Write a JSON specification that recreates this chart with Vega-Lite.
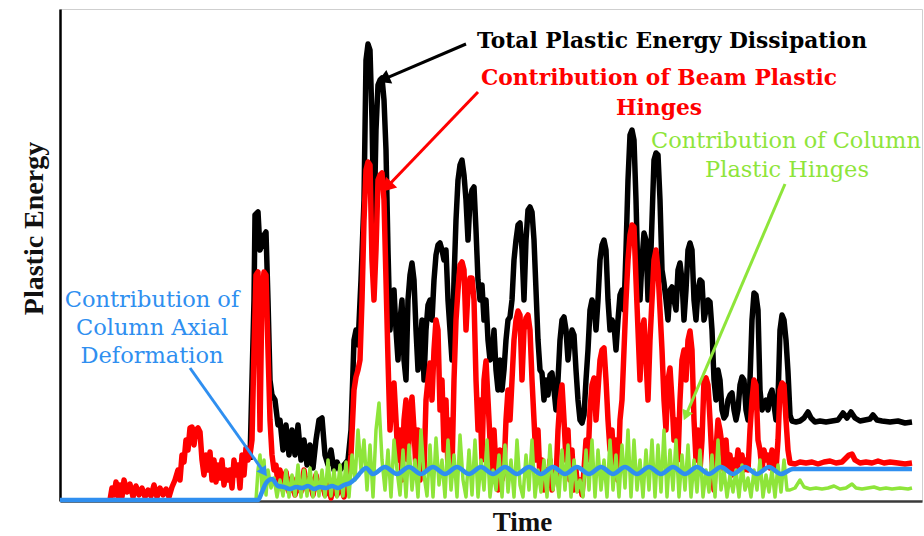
{
"$schema": "https://vega.github.io/schema/vega-lite/v6.json",
"width": 862, "height": 492,
"autosize": "none",
"padding": {"left": 60, "top": 9, "right": 2, "bottom": 35},
"background": "white",
"datasets": {
"total": [
{"t":250,"e":41},{"t":254,"e":201},{"t":255,"e":286},{"t":258,"e":289},{"t":260,"e":251},{"t":262,"e":256},{"t":264,"e":266},{"t":266,"e":269},{"t":268,"e":201},{"t":270,"e":121},{"t":272,"e":106},{"t":275,"e":101},{"t":278,"e":76},{"t":280,"e":81},{"t":283,"e":51},{"t":286,"e":76},{"t":289,"e":46},{"t":292,"e":71},{"t":295,"e":46},{"t":298,"e":76},{"t":301,"e":41},{"t":304,"e":61},{"t":307,"e":36},{"t":310,"e":56},{"t":313,"e":33},{"t":316,"e":61},{"t":319,"e":81},{"t":322,"e":83},{"t":325,"e":46},{"t":328,"e":36},{"t":331,"e":51},{"t":334,"e":31},{"t":337,"e":39},{"t":340,"e":31},{"t":344,"e":36},{"t":348,"e":41},{"t":351,"e":71},{"t":354,"e":161},{"t":356,"e":171},{"t":358,"e":156},{"t":361,"e":221},{"t":364,"e":301},{"t":366,"e":441},{"t":368,"e":457},{"t":370,"e":451},{"t":372,"e":381},{"t":374,"e":271},{"t":376,"e":371},{"t":378,"e":416},{"t":380,"e":421},{"t":382,"e":423},{"t":384,"e":401},{"t":386,"e":351},{"t":388,"e":251},{"t":390,"e":171},{"t":392,"e":201},{"t":394,"e":211},{"t":396,"e":171},{"t":398,"e":141},{"t":400,"e":181},{"t":402,"e":201},{"t":404,"e":141},{"t":406,"e":121},{"t":408,"e":201},{"t":410,"e":226},{"t":412,"e":238},{"t":414,"e":221},{"t":416,"e":171},{"t":418,"e":131},{"t":420,"e":151},{"t":422,"e":181},{"t":424,"e":121},{"t":426,"e":171},{"t":428,"e":196},{"t":430,"e":201},{"t":432,"e":181},{"t":434,"e":221},{"t":436,"e":246},{"t":438,"e":256},{"t":440,"e":258},{"t":442,"e":251},{"t":444,"e":241},{"t":446,"e":251},{"t":448,"e":201},{"t":450,"e":171},{"t":452,"e":141},{"t":454,"e":221},{"t":456,"e":281},{"t":458,"e":321},{"t":460,"e":336},{"t":462,"e":341},{"t":464,"e":326},{"t":466,"e":301},{"t":468,"e":261},{"t":470,"e":301},{"t":472,"e":311},{"t":474,"e":314},{"t":476,"e":271},{"t":478,"e":221},{"t":480,"e":201},{"t":482,"e":216},{"t":484,"e":181},{"t":486,"e":201},{"t":488,"e":161},{"t":490,"e":141},{"t":492,"e":144},{"t":494,"e":171},{"t":496,"e":131},{"t":498,"e":111},{"t":500,"e":141},{"t":502,"e":111},{"t":504,"e":131},{"t":506,"e":161},{"t":508,"e":181},{"t":510,"e":184},{"t":512,"e":201},{"t":514,"e":241},{"t":516,"e":261},{"t":518,"e":276},{"t":520,"e":278},{"t":522,"e":251},{"t":524,"e":201},{"t":526,"e":261},{"t":528,"e":291},{"t":530,"e":294},{"t":532,"e":289},{"t":534,"e":261},{"t":536,"e":211},{"t":538,"e":161},{"t":540,"e":131},{"t":542,"e":128},{"t":544,"e":101},{"t":546,"e":121},{"t":548,"e":106},{"t":550,"e":126},{"t":552,"e":128},{"t":554,"e":111},{"t":556,"e":91},{"t":558,"e":121},{"t":560,"e":161},{"t":562,"e":181},{"t":564,"e":184},{"t":566,"e":171},{"t":568,"e":141},{"t":570,"e":161},{"t":572,"e":171},{"t":574,"e":166},{"t":576,"e":131},{"t":578,"e":101},{"t":580,"e":81},{"t":582,"e":78},{"t":584,"e":86},{"t":586,"e":121},{"t":588,"e":151},{"t":590,"e":191},{"t":592,"e":201},{"t":594,"e":196},{"t":596,"e":171},{"t":598,"e":201},{"t":600,"e":241},{"t":602,"e":256},{"t":604,"e":261},{"t":606,"e":251},{"t":608,"e":201},{"t":610,"e":171},{"t":612,"e":181},{"t":614,"e":176},{"t":616,"e":151},{"t":618,"e":181},{"t":620,"e":206},{"t":622,"e":211},{"t":624,"e":191},{"t":626,"e":251},{"t":628,"e":321},{"t":630,"e":366},{"t":632,"e":371},{"t":634,"e":361},{"t":636,"e":301},{"t":638,"e":221},{"t":640,"e":201},{"t":642,"e":241},{"t":644,"e":268},{"t":646,"e":261},{"t":648,"e":201},{"t":650,"e":221},{"t":652,"e":281},{"t":654,"e":341},{"t":656,"e":348},{"t":658,"e":346},{"t":660,"e":301},{"t":662,"e":231},{"t":664,"e":218},{"t":666,"e":201},{"t":668,"e":181},{"t":670,"e":211},{"t":672,"e":214},{"t":674,"e":201},{"t":676,"e":191},{"t":678,"e":231},{"t":680,"e":238},{"t":682,"e":221},{"t":684,"e":181},{"t":686,"e":211},{"t":688,"e":251},{"t":690,"e":258},{"t":692,"e":251},{"t":694,"e":201},{"t":696,"e":181},{"t":698,"e":211},{"t":700,"e":221},{"t":702,"e":219},{"t":704,"e":181},{"t":706,"e":191},{"t":708,"e":201},{"t":710,"e":199},{"t":712,"e":171},{"t":714,"e":121},{"t":716,"e":101},{"t":718,"e":131},{"t":720,"e":121},{"t":722,"e":91},{"t":724,"e":83},{"t":726,"e":86},{"t":728,"e":101},{"t":730,"e":106},{"t":732,"e":108},{"t":734,"e":91},{"t":736,"e":81},{"t":738,"e":91},{"t":740,"e":116},{"t":742,"e":124},{"t":744,"e":121},{"t":746,"e":91},{"t":748,"e":81},{"t":750,"e":121},{"t":752,"e":181},{"t":754,"e":208},{"t":756,"e":206},{"t":758,"e":191},{"t":760,"e":111},{"t":762,"e":91},{"t":764,"e":96},{"t":766,"e":101},{"t":768,"e":91},{"t":770,"e":106},{"t":772,"e":111},{"t":774,"e":96},{"t":776,"e":81},{"t":778,"e":101},{"t":780,"e":171},{"t":782,"e":186},{"t":784,"e":181},{"t":786,"e":161},{"t":788,"e":129},{"t":790,"e":86},{"t":792,"e":80},{"t":796,"e":79},{"t":800,"e":80},{"t":804,"e":83},{"t":808,"e":89},{"t":811,"e":83},{"t":815,"e":79},{"t":820,"e":80},{"t":826,"e":79},{"t":832,"e":80},{"t":838,"e":81},{"t":843,"e":88},{"t":847,"e":83},{"t":851,"e":89},{"t":855,"e":83},{"t":860,"e":80},{"t":865,"e":81},{"t":870,"e":82},{"t":873,"e":86},{"t":877,"e":81},{"t":882,"e":80},{"t":890,"e":79},{"t":898,"e":80},{"t":905,"e":78},{"t":912,"e":79}
],
"beam": [
{"t":110,"e":1},{"t":112,"e":13},{"t":114,"e":6},{"t":116,"e":19},{"t":118,"e":5},{"t":120,"e":16},{"t":122,"e":4},{"t":124,"e":21},{"t":127,"e":9},{"t":130,"e":17},{"t":133,"e":4},{"t":136,"e":15},{"t":139,"e":6},{"t":142,"e":13},{"t":145,"e":4},{"t":148,"e":11},{"t":151,"e":5},{"t":154,"e":16},{"t":157,"e":4},{"t":160,"e":13},{"t":163,"e":6},{"t":166,"e":12},{"t":169,"e":4},{"t":172,"e":14},{"t":175,"e":21},{"t":178,"e":31},{"t":180,"e":21},{"t":182,"e":46},{"t":184,"e":39},{"t":186,"e":61},{"t":188,"e":51},{"t":190,"e":73},{"t":192,"e":74},{"t":194,"e":56},{"t":196,"e":71},{"t":198,"e":73},{"t":200,"e":69},{"t":202,"e":41},{"t":204,"e":26},{"t":206,"e":46},{"t":208,"e":31},{"t":210,"e":49},{"t":212,"e":21},{"t":214,"e":41},{"t":216,"e":19},{"t":218,"e":36},{"t":220,"e":23},{"t":222,"e":41},{"t":224,"e":16},{"t":226,"e":31},{"t":228,"e":21},{"t":230,"e":31},{"t":232,"e":13},{"t":234,"e":41},{"t":236,"e":26},{"t":238,"e":36},{"t":240,"e":13},{"t":242,"e":46},{"t":244,"e":26},{"t":246,"e":53},{"t":248,"e":41},{"t":250,"e":46},{"t":252,"e":61},{"t":254,"e":151},{"t":256,"e":226},{"t":258,"e":229},{"t":260,"e":71},{"t":262,"e":211},{"t":264,"e":229},{"t":266,"e":226},{"t":268,"e":151},{"t":270,"e":81},{"t":272,"e":46},{"t":274,"e":31},{"t":276,"e":36},{"t":278,"e":16},{"t":280,"e":31},{"t":283,"e":11},{"t":286,"e":29},{"t":289,"e":9},{"t":292,"e":23},{"t":295,"e":6},{"t":298,"e":21},{"t":301,"e":9},{"t":304,"e":31},{"t":307,"e":11},{"t":310,"e":23},{"t":313,"e":6},{"t":316,"e":26},{"t":319,"e":11},{"t":322,"e":21},{"t":325,"e":6},{"t":328,"e":16},{"t":331,"e":3},{"t":334,"e":21},{"t":337,"e":6},{"t":340,"e":16},{"t":344,"e":4},{"t":348,"e":21},{"t":351,"e":46},{"t":354,"e":111},{"t":356,"e":124},{"t":358,"e":131},{"t":360,"e":141},{"t":362,"e":201},{"t":364,"e":281},{"t":366,"e":331},{"t":368,"e":339},{"t":370,"e":336},{"t":372,"e":241},{"t":374,"e":201},{"t":376,"e":251},{"t":378,"e":321},{"t":380,"e":326},{"t":382,"e":328},{"t":384,"e":301},{"t":386,"e":221},{"t":388,"e":141},{"t":390,"e":71},{"t":392,"e":101},{"t":394,"e":118},{"t":396,"e":81},{"t":398,"e":41},{"t":400,"e":71},{"t":402,"e":21},{"t":404,"e":81},{"t":406,"e":101},{"t":408,"e":41},{"t":410,"e":81},{"t":412,"e":104},{"t":414,"e":71},{"t":416,"e":31},{"t":418,"e":71},{"t":420,"e":21},{"t":422,"e":61},{"t":424,"e":31},{"t":426,"e":101},{"t":428,"e":121},{"t":430,"e":138},{"t":432,"e":101},{"t":434,"e":151},{"t":436,"e":181},{"t":438,"e":171},{"t":440,"e":91},{"t":442,"e":121},{"t":444,"e":51},{"t":446,"e":101},{"t":448,"e":31},{"t":450,"e":81},{"t":452,"e":31},{"t":454,"e":121},{"t":456,"e":181},{"t":458,"e":211},{"t":460,"e":236},{"t":462,"e":239},{"t":464,"e":231},{"t":466,"e":171},{"t":468,"e":211},{"t":470,"e":223},{"t":472,"e":223},{"t":474,"e":201},{"t":476,"e":121},{"t":478,"e":71},{"t":480,"e":101},{"t":482,"e":41},{"t":484,"e":121},{"t":486,"e":140},{"t":488,"e":101},{"t":490,"e":61},{"t":492,"e":21},{"t":494,"e":71},{"t":496,"e":31},{"t":498,"e":11},{"t":500,"e":51},{"t":502,"e":21},{"t":504,"e":31},{"t":506,"e":81},{"t":508,"e":111},{"t":510,"e":81},{"t":512,"e":121},{"t":514,"e":161},{"t":516,"e":181},{"t":518,"e":190},{"t":520,"e":186},{"t":522,"e":121},{"t":524,"e":171},{"t":526,"e":183},{"t":528,"e":186},{"t":530,"e":171},{"t":532,"e":121},{"t":534,"e":81},{"t":536,"e":41},{"t":538,"e":71},{"t":540,"e":21},{"t":542,"e":41},{"t":544,"e":11},{"t":546,"e":31},{"t":548,"e":16},{"t":550,"e":41},{"t":552,"e":11},{"t":554,"e":31},{"t":556,"e":21},{"t":558,"e":71},{"t":560,"e":101},{"t":562,"e":116},{"t":564,"e":81},{"t":566,"e":41},{"t":568,"e":71},{"t":570,"e":21},{"t":572,"e":51},{"t":574,"e":11},{"t":576,"e":31},{"t":578,"e":11},{"t":580,"e":21},{"t":582,"e":6},{"t":584,"e":31},{"t":586,"e":61},{"t":588,"e":41},{"t":590,"e":91},{"t":592,"e":116},{"t":594,"e":123},{"t":596,"e":81},{"t":598,"e":111},{"t":600,"e":141},{"t":602,"e":151},{"t":604,"e":153},{"t":606,"e":121},{"t":608,"e":81},{"t":610,"e":51},{"t":612,"e":71},{"t":614,"e":31},{"t":616,"e":61},{"t":618,"e":21},{"t":620,"e":81},{"t":622,"e":101},{"t":624,"e":151},{"t":626,"e":201},{"t":628,"e":241},{"t":630,"e":266},{"t":632,"e":276},{"t":634,"e":274},{"t":636,"e":221},{"t":638,"e":171},{"t":640,"e":121},{"t":642,"e":171},{"t":644,"e":181},{"t":646,"e":141},{"t":648,"e":101},{"t":650,"e":161},{"t":652,"e":201},{"t":654,"e":241},{"t":656,"e":251},{"t":658,"e":231},{"t":660,"e":191},{"t":662,"e":151},{"t":664,"e":101},{"t":666,"e":71},{"t":668,"e":121},{"t":670,"e":133},{"t":672,"e":101},{"t":674,"e":61},{"t":676,"e":81},{"t":678,"e":41},{"t":680,"e":101},{"t":682,"e":141},{"t":684,"e":151},{"t":686,"e":121},{"t":688,"e":161},{"t":690,"e":170},{"t":692,"e":151},{"t":694,"e":81},{"t":696,"e":41},{"t":698,"e":71},{"t":700,"e":31},{"t":702,"e":61},{"t":704,"e":121},{"t":706,"e":123},{"t":708,"e":116},{"t":710,"e":81},{"t":712,"e":41},{"t":714,"e":11},{"t":716,"e":51},{"t":718,"e":81},{"t":720,"e":71},{"t":722,"e":56},{"t":724,"e":31},{"t":726,"e":61},{"t":728,"e":31},{"t":730,"e":46},{"t":732,"e":26},{"t":734,"e":41},{"t":736,"e":31},{"t":738,"e":51},{"t":740,"e":36},{"t":742,"e":46},{"t":744,"e":31},{"t":746,"e":41},{"t":748,"e":31},{"t":750,"e":71},{"t":752,"e":101},{"t":754,"e":121},{"t":756,"e":116},{"t":758,"e":61},{"t":760,"e":51},{"t":762,"e":31},{"t":764,"e":51},{"t":766,"e":41},{"t":768,"e":46},{"t":770,"e":33},{"t":772,"e":51},{"t":774,"e":41},{"t":776,"e":31},{"t":778,"e":61},{"t":780,"e":111},{"t":782,"e":118},{"t":784,"e":116},{"t":786,"e":81},{"t":788,"e":51},{"t":790,"e":38},{"t":795,"e":37},{"t":800,"e":39},{"t":806,"e":38},{"t":812,"e":39},{"t":818,"e":37},{"t":824,"e":39},{"t":830,"e":40},{"t":836,"e":38},{"t":842,"e":39},{"t":846,"e":43},{"t":849,"e":46},{"t":852,"e":47},{"t":855,"e":41},{"t":860,"e":38},{"t":866,"e":39},{"t":872,"e":38},{"t":878,"e":40},{"t":884,"e":38},{"t":890,"e":39},{"t":898,"e":38},{"t":905,"e":37},{"t":912,"e":38}
],
"column": [
{"t":60,"e":1},{"t":256,"e":1},{"t":258,"e":31},{"t":260,"e":46},{"t":262,"e":11},{"t":264,"e":41},{"t":266,"e":6},{"t":268,"e":31},{"t":271,"e":13},{"t":274,"e":23},{"t":277,"e":4},{"t":280,"e":21},{"t":283,"e":5},{"t":286,"e":31},{"t":289,"e":4},{"t":292,"e":26},{"t":295,"e":5},{"t":298,"e":36},{"t":301,"e":4},{"t":304,"e":31},{"t":307,"e":5},{"t":310,"e":33},{"t":313,"e":4},{"t":316,"e":29},{"t":319,"e":5},{"t":322,"e":31},{"t":325,"e":4},{"t":328,"e":41},{"t":331,"e":5},{"t":334,"e":31},{"t":337,"e":4},{"t":340,"e":36},{"t":343,"e":5},{"t":346,"e":39},{"t":349,"e":4},{"t":352,"e":46},{"t":355,"e":21},{"t":358,"e":71},{"t":361,"e":31},{"t":364,"e":61},{"t":367,"e":11},{"t":370,"e":56},{"t":373,"e":4},{"t":376,"e":71},{"t":379,"e":98},{"t":382,"e":41},{"t":385,"e":11},{"t":388,"e":51},{"t":391,"e":4},{"t":394,"e":61},{"t":397,"e":31},{"t":400,"e":6},{"t":403,"e":51},{"t":406,"e":4},{"t":409,"e":56},{"t":412,"e":11},{"t":415,"e":41},{"t":418,"e":4},{"t":421,"e":71},{"t":424,"e":26},{"t":427,"e":5},{"t":430,"e":56},{"t":433,"e":4},{"t":436,"e":63},{"t":439,"e":16},{"t":442,"e":41},{"t":445,"e":4},{"t":448,"e":61},{"t":451,"e":11},{"t":454,"e":46},{"t":457,"e":4},{"t":460,"e":66},{"t":463,"e":21},{"t":466,"e":4},{"t":469,"e":51},{"t":472,"e":6},{"t":475,"e":61},{"t":478,"e":4},{"t":481,"e":41},{"t":484,"e":11},{"t":487,"e":61},{"t":490,"e":4},{"t":493,"e":31},{"t":496,"e":11},{"t":499,"e":46},{"t":502,"e":4},{"t":505,"e":56},{"t":508,"e":9},{"t":511,"e":41},{"t":514,"e":4},{"t":517,"e":61},{"t":520,"e":16},{"t":523,"e":4},{"t":526,"e":46},{"t":529,"e":11},{"t":532,"e":61},{"t":535,"e":4},{"t":538,"e":31},{"t":541,"e":9},{"t":544,"e":41},{"t":547,"e":4},{"t":550,"e":56},{"t":553,"e":11},{"t":556,"e":31},{"t":559,"e":4},{"t":562,"e":51},{"t":565,"e":11},{"t":568,"e":56},{"t":571,"e":4},{"t":574,"e":41},{"t":577,"e":9},{"t":580,"e":21},{"t":583,"e":4},{"t":586,"e":51},{"t":589,"e":11},{"t":592,"e":61},{"t":595,"e":4},{"t":598,"e":51},{"t":601,"e":11},{"t":604,"e":41},{"t":607,"e":4},{"t":610,"e":61},{"t":613,"e":11},{"t":616,"e":46},{"t":619,"e":4},{"t":622,"e":56},{"t":625,"e":13},{"t":628,"e":71},{"t":631,"e":4},{"t":634,"e":61},{"t":637,"e":11},{"t":640,"e":41},{"t":643,"e":4},{"t":646,"e":51},{"t":649,"e":11},{"t":652,"e":61},{"t":655,"e":4},{"t":658,"e":56},{"t":661,"e":9},{"t":664,"e":71},{"t":667,"e":4},{"t":670,"e":51},{"t":673,"e":11},{"t":676,"e":61},{"t":679,"e":4},{"t":682,"e":46},{"t":685,"e":11},{"t":688,"e":56},{"t":691,"e":4},{"t":694,"e":41},{"t":697,"e":9},{"t":700,"e":51},{"t":703,"e":4},{"t":706,"e":31},{"t":709,"e":9},{"t":712,"e":46},{"t":715,"e":4},{"t":718,"e":61},{"t":721,"e":11},{"t":724,"e":31},{"t":727,"e":4},{"t":730,"e":26},{"t":733,"e":9},{"t":736,"e":31},{"t":739,"e":4},{"t":742,"e":36},{"t":745,"e":11},{"t":748,"e":23},{"t":751,"e":4},{"t":754,"e":31},{"t":757,"e":11},{"t":760,"e":41},{"t":763,"e":4},{"t":766,"e":26},{"t":769,"e":9},{"t":772,"e":31},{"t":775,"e":4},{"t":778,"e":36},{"t":781,"e":9},{"t":784,"e":41},{"t":787,"e":11},{"t":790,"e":11},{"t":795,"e":13},{"t":800,"e":21},{"t":804,"e":14},{"t":810,"e":12},{"t":816,"e":13},{"t":822,"e":12},{"t":828,"e":13},{"t":834,"e":15},{"t":840,"e":12},{"t":846,"e":13},{"t":852,"e":17},{"t":856,"e":13},{"t":862,"e":12},{"t":868,"e":13},{"t":874,"e":14},{"t":880,"e":12},{"t":886,"e":13},{"t":892,"e":12},{"t":900,"e":13},{"t":908,"e":12},{"t":912,"e":13}
],
"axial": [
{"t":60,"e":1},{"t":258,"e":1},{"t":262,"e":9},{"t":266,"e":18},{"t":272,"e":22},{"t":278,"e":15},{"t":284,"e":14},{"t":290,"e":12},{"t":296,"e":14},{"t":302,"e":13},{"t":308,"e":15},{"t":314,"e":12},{"t":320,"e":14},{"t":326,"e":13},{"t":332,"e":15},{"t":338,"e":13},{"t":344,"e":16},{"t":350,"e":18},{"t":356,"e":23},{"t":361,"e":29},{"t":366,"e":33},{"t":373,"e":27},{"t":385,"e":34},{"t":397,"e":27},{"t":409,"e":34},{"t":421,"e":27},{"t":433,"e":34},{"t":445,"e":27},{"t":457,"e":34},{"t":469,"e":27},{"t":481,"e":34},{"t":493,"e":27},{"t":505,"e":34},{"t":517,"e":27},{"t":529,"e":34},{"t":541,"e":27},{"t":553,"e":34},{"t":565,"e":27},{"t":577,"e":34},{"t":589,"e":27},{"t":601,"e":34},{"t":613,"e":27},{"t":625,"e":34},{"t":637,"e":27},{"t":649,"e":34},{"t":661,"e":27},{"t":673,"e":34},{"t":685,"e":27},{"t":697,"e":34},{"t":709,"e":27},{"t":721,"e":34},{"t":733,"e":27},{"t":745,"e":34},{"t":757,"e":27},{"t":769,"e":34},{"t":781,"e":27},{"t":793,"e":32},{"t":850,"e":32},{"t":912,"e":32}
],
"arrows": [
{"s":"total","t":466,"e":457,"t2":383.4,"e2":421.7},
{"s":"beam","t":478,"e":409,"t2":386.9,"e2":314},
{"s":"column","t":785,"e":317,"t2":685.8,"e2":85.4},
{"s":"axial","t":190,"e":133,"t2":264,"e2":28.7}
],
"labels": [
{"s":"total","t":672,"e":453,"text":"Total Plastic Energy Dissipation"},
{"s":"beam","t":659,"e":416,"text":"Contribution of Beam Plastic"},
{"s":"beam","t":659,"e":386,"text":"Hinges"},
{"s":"column","t":786,"e":353,"text":"Contribution of Column"},
{"s":"column","t":787,"e":324,"text":"Plastic Hinges"},
{"s":"axial","t":152,"e":194,"text":"Contribution of"},
{"s":"axial","t":152,"e":166,"text":"Column Axial"},
{"s":"axial","t":152,"e":138,"text":"Deformation"}
]
},
"encoding": {
"x": {"field": "t", "type": "quantitative", "title": "Time", "scale": {"domain": [60, 922], "nice": false, "zero": false}},
"y": {"field": "e", "type": "quantitative", "title": "Plastic Energy", "scale": {"domain": [0, 492], "nice": false, "zero": false}}
},
"layer": [
{"data": {"name": "total"}, "mark": {"type": "line", "color": "#000000", "strokeWidth": 5.5, "strokeJoin": "round"}},
{"data": {"name": "beam"}, "mark": {"type": "line", "color": "#ff0000", "strokeWidth": 5.5, "strokeJoin": "round"}},
{"data": {"name": "column"}, "mark": {"type": "line", "color": "#8ee53a", "strokeWidth": 3.5, "strokeJoin": "round"}},
{"data": {"name": "axial"}, "mark": {"type": "line", "color": "#2f8ff0", "strokeWidth": 4.5, "interpolate": "monotone"}},
{"data": {"values": [{"t": 60}]}, "mark": {"type": "rule", "color": "#000000", "strokeWidth": 2.5},
 "encoding": {"x": {"datum": 60, "type": "quantitative"}, "x2": {"datum": 922}, "y": {"datum": 492, "type": "quantitative"}}},
{"data": {"name": "arrows"}, "mark": {"type": "rule", "strokeWidth": 3},
 "encoding": {"x2": {"field": "t2"}, "y2": {"field": "e2"},
  "color": {"field": "s", "type": "nominal", "legend": null, "scale": {"domain": ["total", "beam", "column", "axial"], "range": ["#000000", "#ff0000", "#8ee53a", "#2f8ff0"]}}}},
{"data": {"name": "arrows"}, "transform": [{"filter": "datum.s === 'total'"}], "mark": {"type": "point", "shape": "triangle-up", "filled": true, "opacity": 1, "color": "#000000", "size": 220, "angle": 247},
 "encoding": {"x": {"field": "t2", "type": "quantitative"}, "y": {"field": "e2", "type": "quantitative"}}},
{"data": {"name": "arrows"}, "transform": [{"filter": "datum.s === 'beam'"}], "mark": {"type": "point", "shape": "triangle-up", "filled": true, "opacity": 1, "color": "#ff0000", "size": 240, "angle": 224},
 "encoding": {"x": {"field": "t2", "type": "quantitative"}, "y": {"field": "e2", "type": "quantitative"}}},
{"data": {"name": "arrows"}, "transform": [{"filter": "datum.s === 'column'"}], "mark": {"type": "point", "shape": "triangle-up", "filled": true, "opacity": 1, "color": "#8ee53a", "size": 130, "angle": 203},
 "encoding": {"x": {"field": "t2", "type": "quantitative"}, "y": {"field": "e2", "type": "quantitative"}}},
{"data": {"name": "arrows"}, "transform": [{"filter": "datum.s === 'axial'"}], "mark": {"type": "point", "shape": "triangle-up", "filled": true, "opacity": 1, "color": "#2f8ff0", "size": 130, "angle": 145},
 "encoding": {"x": {"field": "t2", "type": "quantitative"}, "y": {"field": "e2", "type": "quantitative"}}},
{"data": {"name": "labels"}, "transform": [{"filter": "datum.s === 'total' || datum.s === 'beam'"}],
 "mark": {"type": "text", "font": "DejaVu Serif", "fontWeight": "bold", "fontSize": 21.8, "align": "center", "baseline": "alphabetic"},
 "encoding": {"text": {"field": "text"}, "color": {"field": "s", "type": "nominal", "legend": null, "scale": {"domain": ["total", "beam", "column", "axial"], "range": ["#000000", "#ff0000", "#99ee44", "#3a8ee8"]}}}},
{"data": {"name": "labels"}, "transform": [{"filter": "datum.s === 'column' || datum.s === 'axial'"}],
 "mark": {"type": "text", "font": "DejaVu Serif", "fontSize": 22.5, "align": "center", "baseline": "alphabetic"},
 "encoding": {"text": {"field": "text"}, "color": {"field": "s", "type": "nominal", "legend": null, "scale": {"domain": ["total", "beam", "column", "axial"], "range": ["#000000", "#ff0000", "#99ee44", "#3a8ee8"]}}}}
],
"config": {
"view": {"stroke": "#cfcfcf", "strokeWidth": 1},
"axis": {"labels": false, "ticks": false, "grid": false, "domain": true, "titleFont": "Liberation Serif", "titleFontWeight": "bold", "titleFontSize": 27, "titleColor": "#111111"},
"axisX": {"domainColor": "#3a3a3a", "domainWidth": 2.5, "titleX": 462, "titleY": 29, "titleBaseline": "alphabetic", "titleAlign": "center"},
"axisY": {"domainColor": "#000000", "domainWidth": 2.5, "titleX": -18, "titleY": 219, "titleAngle": -90, "titleBaseline": "alphabetic", "titleAlign": "center", "titleFontSize": 28}
}
}
